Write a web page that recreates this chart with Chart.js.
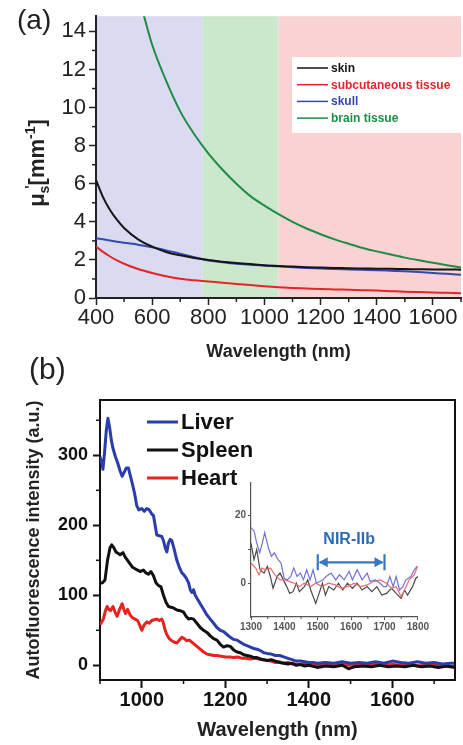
<!DOCTYPE html>
<html><head><meta charset="utf-8">
<script src="https://cdn.jsdelivr.net/npm/chart.js@4.4.1/dist/chart.umd.min.js"></script>
<style>
html,body{margin:0;padding:0;background:#fff;}
#wrap{position:relative;width:463px;height:745px;overflow:hidden;background:#fff;}
canvas{position:absolute;}
#ca{left:0;top:0;}
#cb{left:0;top:340px;}
#ci{left:205px;top:475px;}
</style></head><body>
<div id="wrap">
<canvas id="ca" width="463" height="372"></canvas>
<canvas id="cb" width="463" height="405"></canvas>
<canvas id="ci" width="225" height="165"></canvas>
</div>
<script>
// ---------- Panel (a) data ----------
const wlA = [400,425,450,475,500,550,600,650,700,750,800,850,900,950,1000,1050,1100,1150,1200,1250,1300,1350,1400,1450,1500,1550,1600,1650,1700];
const skin = [6.2,5.3,4.62,4.1,3.68,3.08,2.7,2.42,2.24,2.1,1.99,1.91,1.84,1.78,1.72,1.68,1.65,1.62,1.6,1.58,1.56,1.55,1.54,1.53,1.52,1.51,1.5,1.5,1.49];
const subcut = [2.7,2.42,2.18,1.98,1.8,1.52,1.31,1.14,1.01,0.93,0.87,0.8,0.74,0.68,0.62,0.57,0.53,0.5,0.47,0.45,0.43,0.41,0.39,0.36,0.33,0.31,0.29,0.27,0.25];
const skull = [3.14,3.08,3.02,2.96,2.9,2.8,2.66,2.5,2.33,2.14,1.97,1.88,1.8,1.74,1.7,1.67,1.62,1.58,1.55,1.52,1.5,1.48,1.46,1.43,1.4,1.36,1.31,1.27,1.22];
const wlBrain = [550,575,600,650,700,750,800,850,900,950,1000,1050,1100,1150,1200,1250,1300,1350,1400,1450,1500,1550,1600,1650,1700];
const brain = [16.0,14.6,13.3,11.4,9.8,8.6,7.6,6.75,6.0,5.35,4.85,4.4,4.0,3.65,3.35,3.08,2.85,2.63,2.45,2.28,2.12,1.98,1.85,1.72,1.6];
const namesA = ['skin','subcutaneous tissue','skull','brain tissue'];
const bandEdges = [400,780,1050,1700];
const xTicksA = [400,600,800,1000,1200,1400,1600];
const xMinorA = [500,700,900,1100,1300,1500,1700];
const yTicksA = [0,2,4,6,8,10,12,14];
const yMinorA = [1,3,5,7,9,11,13];

// ---------- Panel (b) data ----------
const liverWl = [900,904,907,911,915,919,923,927,931,937,943,948,953,958,963,968,973,978,983,988,993,1000,1006,1012,1018,1024,1028,1032,1036,1042,1048,1052,1056,1060,1064,1068,1072,1078,1084,1090,1096,1100,1106,1112,1116,1120,1124,1128,1134,1140,1148,1156,1164,1172,1180,1188,1196,1204,1212,1220,1228,1236,1244,1252,1260,1268,1276,1284,1292,1300,1310,1320,1330,1340,1350,1360,1370,1380,1390,1400,1410,1420,1440,1460,1480,1500,1520,1540,1560,1580,1600,1620,1640,1660,1680,1700,1720,1740,1750];
const liverI = [298,290,280,305,335,353,340,322,310,298,288,278,270,276,282,282,270,258,245,228,222,224,220,224,222,216,214,200,186,185,184,178,168,162,175,180,178,165,150,140,132,130,125,118,108,104,108,100,94,88,80,72,66,60,54,50,48,44,40,37,36,33,30,28,26,24,23,21,18,17,16,14,14,12,10,8,6,6,5,4,4,3,4,3,5,3,4,3,5,3,6,4,3,5,3,4,2,3,3];
const spleenWl = [900,906,912,918,924,928,933,938,943,948,955,960,966,972,978,984,990,996,1004,1010,1016,1022,1028,1034,1040,1046,1052,1058,1064,1070,1076,1084,1092,1100,1106,1112,1118,1124,1132,1140,1148,1156,1164,1172,1180,1188,1196,1204,1212,1220,1228,1236,1244,1252,1260,1268,1276,1284,1292,1300,1310,1320,1330,1340,1350,1360,1370,1380,1390,1400,1420,1440,1460,1480,1495,1510,1530,1550,1570,1590,1610,1630,1650,1670,1690,1710,1730,1750];
const spleenI = [117,118,122,150,168,172,168,162,160,158,161,155,150,145,140,138,136,134,136,132,130,134,128,118,114,112,100,90,84,83,82,79,78,76,70,66,67,66,60,54,50,47,42,38,36,30,26,28,27,22,19,18,15,14,13,11,11,9,8,7,8,6,4,3,2,3,0,1,-1,0,-3,-1,-2,0,-5,-2,-1,-2,0,-2,-1,-2,0,-2,-1,-3,-1,-3];
const heartWl = [900,904,908,913,917,921,925,931,936,941,947,953,957,961,966,972,978,984,990,996,1000,1006,1012,1018,1024,1030,1036,1042,1048,1052,1056,1060,1066,1072,1078,1084,1090,1096,1102,1108,1114,1120,1126,1132,1140,1148,1156,1164,1172,1180,1190,1200,1210,1220,1230,1240,1250,1260,1270,1280,1290,1300,1310,1320,1330,1340,1350,1360,1380,1400,1420,1440,1460,1480,1500,1520,1540,1560,1580,1600,1620,1640,1660,1680,1700,1720,1740,1750];
const heartI = [58,62,66,78,84,80,78,84,76,70,80,88,80,74,80,72,68,66,64,56,50,58,62,60,64,65,66,64,66,60,50,44,38,35,33,32,36,40,38,35,36,33,30,27,23,19,16,15,14,14,13,12,12,11,12,10,10,9,10,9,8,7,6,4,5,3,4,2,1,2,0,1,0,1,0,1,0,1,0,1,0,1,-1,0,1,-1,-2,-1];
const namesB = ['Liver','Spleen','Heart'];
const xTicksB = [1000,1200,1400,1600];
const xMinorB = [900,1100,1300,1500,1700];
const yTicksB = [0,100,200,300];
const yMinorB = [50,150,250,350];

// ---------- Inset data ----------
const inBlueWl = [1300,1309,1317,1326,1334,1341,1352,1361,1370,1381,1390,1399,1409,1419,1428,1438,1448,1457,1467,1477,1486,1496,1506,1516,1525,1540,1554,1565,1579,1594,1604,1618,1633,1648,1657,1672,1687,1697,1706,1716,1726,1735,1745,1755,1764,1779,1789,1798];
const inBlue = [16.5,15.5,12,9,12,15,10.5,8,9,7,6,1.5,1,2,4.5,2,3,1,4,1,4,0,0.5,1,2,3,1,2.5,1,3.5,1,4,1,3,0.5,1,0,-1,-1,2,-1,2,-2,-1,1,2,4,5];
const inRedWl = [1300,1314,1324,1333,1343,1358,1372,1387,1401,1416,1430,1445,1459,1479,1494,1513,1532,1552,1570,1589,1609,1628,1648,1667,1687,1706,1721,1735,1750,1760,1774,1789,1799];
const inRed = [6,4.5,2.5,4.5,4,4.5,2.5,1,1,0.5,0,-1,0,-1,0,-1,0,-0.5,-1.5,-1,0,-1,-0.5,0.5,1,0,-1.5,-1,-4,-2,1,2.5,5];
const inBlackWl = [1300,1309,1317,1327,1339,1349,1358,1366,1378,1387,1397,1407,1416,1426,1436,1445,1460,1470,1479,1494,1504,1514,1523,1533,1548,1562,1575,1589,1604,1618,1633,1648,1662,1677,1692,1706,1721,1735,1750,1760,1769,1784,1794,1800];
const inBlack = [11.8,7,10,4,3,5,2,-1.5,2,3,1,-1,-3,-2.5,0,-2.5,-1,1,-2,-6,-3,0,-3.5,-1,-2,0,-2,0,-1.5,0,-2,-1,-2.5,-1,-3.5,-3,-1.5,-3,-4.5,-2,-3.5,-1,1.5,2];
const nirRange = [1500,1700];
const nirLabel = 'NIR-IIb';
const xTicksIn = [1300,1400,1500,1600,1700,1800];
const xMinorIn = [1350,1450,1550,1650,1750];
const yTicksIn = [0,20];
const yMinorIn = [10];

// ---------- helpers ----------
const FF = '"Liberation Sans", Arial, Helvetica, sans-serif';
const xy = (xs, ys) => xs.map((x, i) => ({x: x, y: ys[i]}));
function drawMinor(chart, id, values, len, width, color) {
  const s = chart.scales[id], ctx = chart.ctx, ca = chart.chartArea;
  ctx.save(); ctx.strokeStyle = color; ctx.lineWidth = width;
  values.forEach(v => {
    const p = s.getPixelForValue(v);
    ctx.beginPath();
    if (s.isHorizontal()) { ctx.moveTo(p, ca.bottom); ctx.lineTo(p, ca.bottom + len); }
    else { ctx.moveTo(ca.left, p); ctx.lineTo(ca.left - len, p); }
    ctx.stroke();
  });
  ctx.restore();
}
function axisOpts(o) {
  return {
    type: 'linear', min: o.min, max: o.max,
    afterBuildTicks: s => { s.ticks = o.ticks.map(v => ({value: v})); },
    afterFit: s => { if (o.w !== undefined) s.width = o.w; if (o.h !== undefined) s.height = o.h; },
    ticks: { font: o.font, color: o.color, padding: o.pad, maxRotation: 0, autoSkip: false, callback: v => String(v) },
    grid: { display: true, drawOnChartArea: false, drawTicks: true, tickLength: o.tl, tickWidth: o.tw, tickColor: o.color },
    border: { display: true, color: o.color, width: o.bw },
    title: o.title || { display: false }
  };
}

// ---------- Chart (a) ----------
const bandColors = ['#dadaf0', '#cce8cc', '#f9d3d3'];
const colorsA = ['#151515', '#e3262a', '#3448b0', '#1e8c45'];
const plugA = {
  id: 'decoA',
  beforeDraw(chart) {
    const {ctx, chartArea: ca} = chart, x = chart.scales.x;
    ctx.save();
    for (let i = 0; i < bandEdges.length - 1; i++) {
      const a = x.getPixelForValue(bandEdges[i]), b = x.getPixelForValue(bandEdges[i + 1]);
      ctx.fillStyle = bandColors[i];
      ctx.fillRect(a, ca.top, b - a, ca.bottom - ca.top);
    }
    ctx.restore();
  },
  afterDraw(chart) {
    const ctx = chart.ctx;
    drawMinor(chart, 'x', xMinorA, 4, 1.5, '#222');
    drawMinor(chart, 'y', yMinorA, 4, 1.5, '#222');
    // legend
    ctx.save();
    ctx.fillStyle = '#fff'; ctx.fillRect(292, 57, 170, 76);
    chart.data.datasets.forEach((d, i) => {
      const y = 68 + i * 16.7;
      ctx.strokeStyle = d.borderColor; ctx.lineWidth = 1.5;
      ctx.beginPath(); ctx.moveTo(297, y); ctx.lineTo(328, y); ctx.stroke();
      ctx.fillStyle = d.borderColor; ctx.font = 'bold 12px ' + FF;
      ctx.textBaseline = 'middle'; ctx.textAlign = 'left';
      ctx.fillText(d.label, 331, y + 0.5);
    });
    // y title  mu_s'[mm^-1]
    ctx.translate(44, 163); ctx.rotate(-Math.PI / 2);
    ctx.fillStyle = '#222'; ctx.textBaseline = 'alphabetic'; ctx.textAlign = 'left';
    const big = 'bold 22px ' + FF, small = 'bold 14px ' + FF;
    const pieces = [
      {t: '\u03bc', f: big, dy: 0},
      {t: 's', f: small, dy: 5},
      {t: '\'', f: small, dy: -9, back: 0.4},
      {t: '[mm', f: big, dy: 0},
      {t: '-1', f: small, dy: -9},
      {t: ']', f: big, dy: 0}
    ];
    let tot = 0;
    pieces.forEach(p => { ctx.font = p.f; p.w = ctx.measureText(p.t).width; });
    pieces.forEach((p, i) => { tot += p.w; if (p.back) tot -= pieces[i - 1].w * p.back; });
    let cx = -tot / 2;
    pieces.forEach((p, i) => {
      if (p.back) cx -= pieces[i - 1].w * p.back;
      ctx.font = p.f; ctx.fillText(p.t, cx, p.dy); cx += p.w;
    });
    ctx.restore();
    ctx.save();
    ctx.fillStyle = '#222'; ctx.font = '28px ' + FF; ctx.textBaseline = 'alphabetic';
    ctx.fillText('(a)', 17, 29);
    ctx.restore();
  }
};
new Chart(document.getElementById('ca'), {
  type: 'line',
  data: { datasets: [
    {label: namesA[0], data: xy(wlA, skin), borderColor: colorsA[0]},
    {label: namesA[1], data: xy(wlA, subcut), borderColor: colorsA[1]},
    {label: namesA[2], data: xy(wlA, skull), borderColor: colorsA[2]},
    {label: namesA[3], data: xy(wlBrain, brain), borderColor: colorsA[3]}
  ].map(d => Object.assign(d, {borderWidth: 2, pointRadius: 0, cubicInterpolationMode: 'monotone', fill: false})) },
  options: {
    responsive: false, animation: false, devicePixelRatio: 1,
    layout: { padding: {top: 6, right: 2, left: 0, bottom: 0} },
    plugins: { legend: {display: false}, tooltip: {enabled: false} },
    scales: {
      x: axisOpts({min: 400, max: 1700, ticks: xTicksA, h: 74, font: {family: FF, size: 22}, color: '#222', pad: 0, tl: 7, tw: 1.5, bw: 2,
        title: {display: true, text: 'Wavelength (nm)', color: '#222', font: {family: FF, size: 18, weight: 'bold'}, padding: {top: 0, bottom: 9}}}),
      y: axisOpts({min: 0, max: 14.8, ticks: yTicksA, w: 96, font: {family: FF, size: 22}, color: '#222', pad: 3, tl: 7, tw: 1.5, bw: 2})
    }
  },
  plugins: [plugA]
});

// ---------- Chart (b) ----------
const colorsB = ['#2b3daa', '#111111', '#e8221e'];
const plugB = {
  id: 'decoB',
  afterDraw(chart) {
    const {ctx, chartArea: ca} = chart;
    ctx.save();
    ctx.strokeStyle = '#111'; ctx.lineWidth = 2;
    ctx.beginPath(); ctx.moveTo(ca.left - 1, ca.top); ctx.lineTo(ca.right, ca.top); ctx.lineTo(ca.right, ca.bottom + 1); ctx.stroke();
    ctx.restore();
    drawMinor(chart, 'x', xMinorB, 4, 1.5, '#111');
    drawMinor(chart, 'y', yMinorB, 4, 1.5, '#111');
    ctx.save();
    chart.data.datasets.forEach((d, i) => {
      const y = 82 + i * 28;
      ctx.strokeStyle = d.borderColor; ctx.lineWidth = 3;
      ctx.beginPath(); ctx.moveTo(147, y); ctx.lineTo(178, y); ctx.stroke();
      ctx.fillStyle = '#111'; ctx.font = 'bold 22px ' + FF;
      ctx.textBaseline = 'middle'; ctx.textAlign = 'left';
      ctx.fillText(d.label, 181, y + 1);
    });
    ctx.fillStyle = '#222'; ctx.font = '30px ' + FF; ctx.textBaseline = 'alphabetic';
    ctx.fillText('(b)', 29, 39);
    ctx.restore();
  }
};
new Chart(document.getElementById('cb'), {
  type: 'line',
  data: { datasets: [
    {label: namesB[0], data: xy(liverWl, liverI), borderColor: colorsB[0]},
    {label: namesB[1], data: xy(spleenWl, spleenI), borderColor: colorsB[1]},
    {label: namesB[2], data: xy(heartWl, heartI), borderColor: colorsB[2]}
  ].map(d => Object.assign(d, {borderWidth: 3, pointRadius: 0, tension: 0, fill: false, borderJoinStyle: 'round'})) },
  options: {
    responsive: false, animation: false, devicePixelRatio: 1,
    layout: { padding: {top: 60, right: 8, left: 0, bottom: 0} },
    plugins: { legend: {display: false}, tooltip: {enabled: false} },
    scales: {
      x: axisOpts({min: 900, max: 1750, ticks: xTicksB, h: 65, font: {family: FF, size: 20, weight: 'bold'}, color: '#111', pad: 0, tl: 8, tw: 2, bw: 2,
        title: {display: true, text: 'Wavelength (nm)', color: '#222', font: {family: FF, size: 20, weight: 'bold'}, padding: {top: 0, bottom: 3}}}),
      y: axisOpts({min: -21, max: 379, ticks: yTicksB, w: 100, font: {family: FF, size: 18, weight: 'bold'}, color: '#111', pad: 5, tl: 7, tw: 2, bw: 2,
        title: {display: true, text: 'Autofluorescence intensity (a.u.)', color: '#222', font: {family: FF, size: 18, weight: 'bold'}, padding: {top: 23, bottom: 0}}})
    }
  },
  plugins: [plugB]
});

// ---------- Inset ----------
const plugIn = {
  id: 'decoIn',
  afterDraw(chart) {
    const ctx = chart.ctx, xs = chart.scales.x, ys = chart.scales.y;
    drawMinor(chart, 'x', xMinorIn, 2, 1, '#555');
    drawMinor(chart, 'y', yMinorIn, 3, 1, '#555');
    const x1 = xs.getPixelForValue(nirRange[0]), x2 = xs.getPixelForValue(nirRange[1]);
    const ya = ys.getPixelForValue(6.2), yt = ys.getPixelForValue(12.8);
    const c = '#3a76c2';
    ctx.save();
    ctx.strokeStyle = c; ctx.fillStyle = c; ctx.lineWidth = 2.2;
    ctx.beginPath(); ctx.moveTo(x1 + 2, ya); ctx.lineTo(x2 - 2, ya); ctx.stroke();
    ctx.beginPath(); ctx.moveTo(x1, ya - 8); ctx.lineTo(x1, ya + 8); ctx.moveTo(x2, ya - 8); ctx.lineTo(x2, ya + 8); ctx.stroke();
    ctx.beginPath(); ctx.moveTo(x1 + 1, ya); ctx.lineTo(x1 + 10, ya - 5); ctx.lineTo(x1 + 10, ya + 5); ctx.closePath(); ctx.fill();
    ctx.beginPath(); ctx.moveTo(x2 - 1, ya); ctx.lineTo(x2 - 10, ya - 5); ctx.lineTo(x2 - 10, ya + 5); ctx.closePath(); ctx.fill();
    ctx.font = 'bold 16px ' + FF; ctx.textAlign = 'center'; ctx.textBaseline = 'middle';
    ctx.fillStyle = '#2f6ab5';
    ctx.fillText(nirLabel, (x1 + x2) / 2 - 2, yt);
    ctx.restore();
  }
};
new Chart(document.getElementById('ci'), {
  type: 'line',
  data: { datasets: [
    {label: 'Liver', data: xy(inBlueWl, inBlue), borderColor: '#7272d8'},
    {label: 'Heart', data: xy(inRedWl, inRed), borderColor: '#ec6b6b'},
    {label: 'Spleen', data: xy(inBlackWl, inBlack), borderColor: '#4a4a4a'}
  ].map(d => Object.assign(d, {borderWidth: 1.2, pointRadius: 0, tension: 0, fill: false})) },
  options: {
    responsive: false, animation: false, devicePixelRatio: 1,
    layout: { padding: {top: 7, right: 7, left: 0, bottom: 0} },
    plugins: { legend: {display: false}, tooltip: {enabled: false} },
    scales: {
      x: axisOpts({min: 1300, max: 1800, ticks: xTicksIn, h: 23, font: {family: FF, size: 10, weight: 'bold'}, color: '#555', pad: 1, tl: 3, tw: 1, bw: 1.2}),
      y: axisOpts({min: -10, max: 29.7, ticks: yTicksIn, w: 46, font: {family: FF, size: 10, weight: 'bold'}, color: '#555', pad: 2, tl: 3, tw: 1, bw: 1.2})
    }
  },
  plugins: [plugIn]
});
</script>
</body></html>
